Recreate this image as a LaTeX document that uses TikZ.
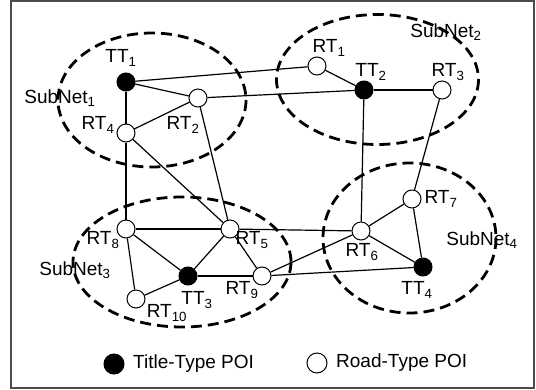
\documentclass[tikz,border=0pt]{standalone}
\usepackage{fontspec}
\setmainfont{Liberation Sans}
\begin{document}
\begin{tikzpicture}[x=1pt,y=-1pt,
  poi/.style={circle,draw,line width=1pt,minimum size=18pt,inner sep=0pt},
  tt/.style={poi,fill=black},
  rt/.style={poi,fill=white},
  lbl/.style={font=\fontsize{19}{19}\selectfont,inner sep=0pt},
  link/.style={line width=1.2pt},
  subnet/.style={line width=2.8pt,dash pattern=on 11pt off 6pt},
  keydot/.style={circle,draw,line width=1pt,minimum size=20pt,inner sep=0pt}]
\useasboundingbox (0,0) rectangle (536,389);
\draw[black!70,line width=1.5pt] (11,1) rectangle (534,388);

% points of interest
\node[tt] (tt1) at (126,82) {};
\node[rt] (rt2) at (198,98) {};
\node[rt] (rt4) at (126,133) {};
\node[rt] (rt1) at (317,66) {};
\node[tt] (tt2) at (364,90) {};
\node[rt] (rt3) at (442,90) {};
\node[rt] (rt8) at (126,229) {};
\node[rt] (rt5) at (230,229) {};
\node[tt] (tt3) at (188,276) {};
\node[rt] (rt9) at (262,276) {};
\node[rt] (rt10) at (136,299) {};
\node[rt] (rt7) at (412,199) {};
\node[rt] (rt6) at (361,231) {};
\node[tt] (tt4) at (423,267) {};

% road links
\draw[link] (tt1) -- (rt1);
\draw[link] (tt1) -- (rt2);
\draw[link] (tt1) -- (rt4);
\draw[link] (rt4) -- (rt2);
\draw[link] (rt2) -- (tt2);
\draw[link] (rt1) -- (tt2);
\draw[link] (tt2) -- (rt3);
\draw[link] (tt2) -- (rt6);
\draw[link] (rt3) -- (rt7);
\draw[link] (rt4) -- (rt8);
\draw[link] (rt4) -- (rt5);
\draw[link] (rt2) -- (rt5);
\draw[link] (rt8) -- (rt5);
\draw[link] (rt8) -- (tt3);
\draw[link] (rt8) -- (rt10);
\draw[link] (rt10) -- (tt3);
\draw[link] (tt3) -- (rt5);
\draw[link] (tt3) -- (rt9);
\draw[link] (rt5) -- (rt9);
\draw[link] (rt5) -- (rt6);
\draw[link] (rt9) -- (rt6);
\draw[link] (rt9) -- (tt4);
\draw[link] (rt6) -- (rt7);
\draw[link] (rt6) -- (tt4);
\draw[link] (rt7) -- (tt4);

% labels
\node[lbl] (ltt1) at (121,58) {TT\textsubscript{1}};
\node[lbl] (lrt4) at (98,125) {RT\textsubscript{4}};
\node[lbl] (lrt2) at (183,125) {RT\textsubscript{2}};
\node[lbl] (lrt1) at (329,48) {RT\textsubscript{1}};
\node[lbl] (ltt2) at (371,72) {TT\textsubscript{2}};
\node[lbl] (lrt3) at (448,72) {RT\textsubscript{3}};
\node[lbl] (lrt8) at (103,240) {RT\textsubscript{8}};
\node[lbl] (lrt5) at (252,240) {RT\textsubscript{5}};
\node[lbl] (ltt3) at (197,300) {TT\textsubscript{3}};
\node[lbl] (lrt9) at (242,290) {RT\textsubscript{9}};
\node[lbl] (lrt10) at (167,313) {RT\textsubscript{10}};
\node[lbl] (lrt7) at (441,199) {RT\textsubscript{7}};
\node[lbl] (lrt6) at (362,252) {RT\textsubscript{6}};
\node[lbl] (ltt4) at (417,290) {TT\textsubscript{4}};

\node[lbl] (s1) at (60,98) {SubNet\textsubscript{1}};
\node[lbl] (s2) at (446,32) {SubNet\textsubscript{2}};
\node[lbl] (s3) at (75,270) {SubNet\textsubscript{3}};
\node[lbl] (s4) at (482,240) {SubNet\textsubscript{4}};

% sub-networks
\draw[subnet] (152,100) ellipse [x radius=94, y radius=67];
\draw[subnet] (377.5,79.5) ellipse [x radius=101, y radius=65];
\draw[subnet] (182,262) ellipse [x radius=109, y radius=65];
\draw[subnet] (409.5,238) ellipse [x radius=86.5, y radius=75];

% legend
\node[keydot,fill=black] (k1) at (114,364) {};
\node[lbl,anchor=west] (k1t) at (133,364) {Title-Type POI};
\node[keydot,fill=white] (k2) at (317,363) {};
\node[lbl,anchor=west] (k2t) at (336,363) {Road-Type POI};
\end{tikzpicture}
\end{document}
